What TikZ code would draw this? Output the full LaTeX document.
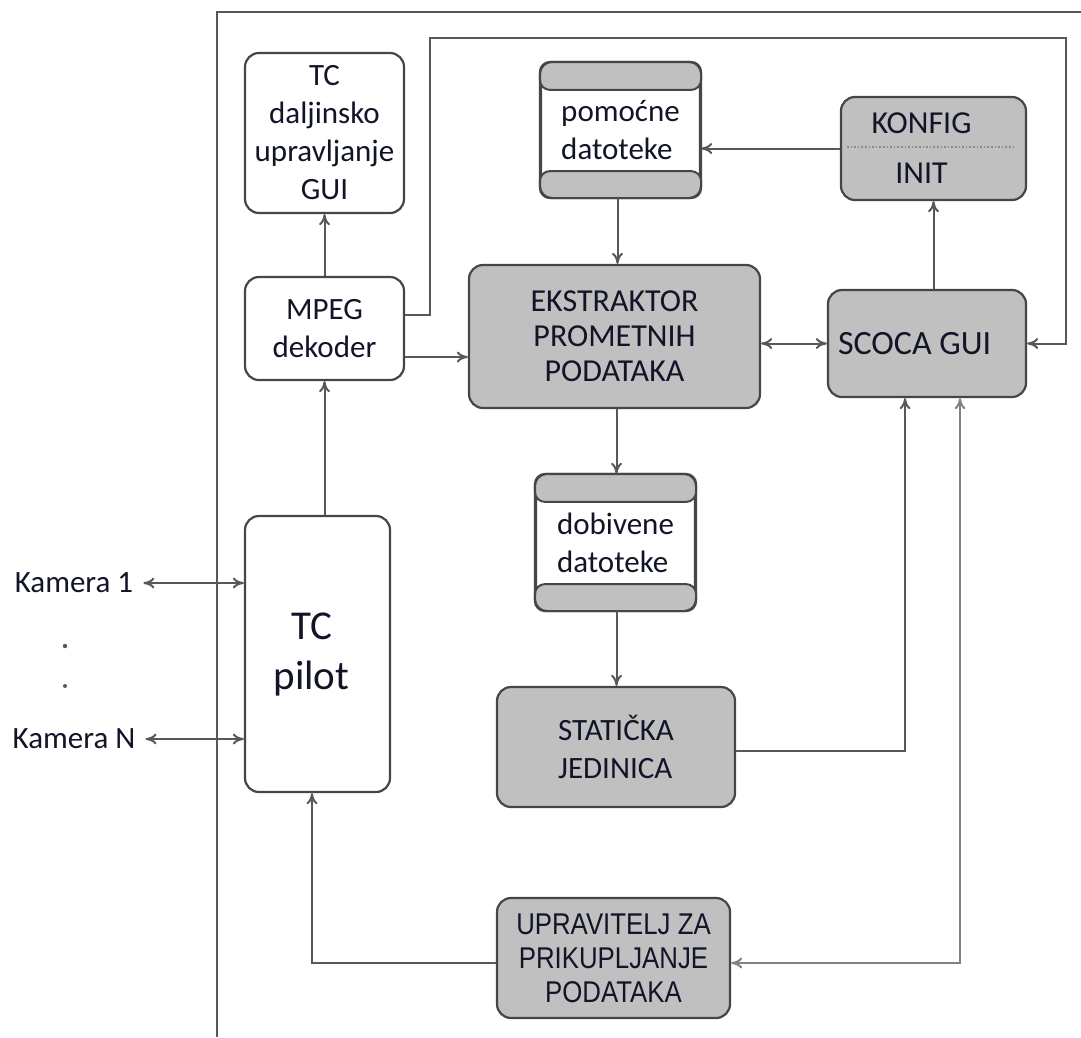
\documentclass[tikz,border=0pt]{standalone}
\usepackage{fontspec}
\setmainfont{Carlito}
\newfontfamily\narrowfont[FakeStretch=0.86]{Liberation Sans}
\usetikzlibrary{arrows.meta,positioning}

\definecolor{linija}{RGB}{88,88,88}
\definecolor{rub}{RGB}{70,70,70}
\definecolor{siva}{RGB}{192,192,192}
\definecolor{tekst}{RGB}{18,20,40}

\begin{document}
\begin{tikzpicture}[x=1pt,y=-1pt,>={To[length=11pt,width=11pt]}]
            \tikzstyle{block}=[rectangle,rounded corners=14pt,draw=rub,line width=2.2pt,inner sep=2pt,text=tekst,
                               font=\fontsize{31}{38}\selectfont,align=center]
            \tikzstyle{W}=[block,fill=white]       % bijeli blok
            \tikzstyle{G}=[block,fill=siva]        % sivi blok
            \tikzstyle{D}=[block,fill=white,align=left]  % datoteke
            \tikzstyle{band}=[draw=rub,line width=2pt,fill=siva,rounded corners=10pt]
            \tikzstyle{conn}=[draw=linija,line width=2pt]
            \tikzstyle{every edge}=[conn]
            \tikzstyle{kam}=[text=tekst,font=\fontsize{31}{38}\selectfont,inner sep=10pt]

            \useasboundingbox (0,0) rectangle (1081,1037);

            % okvir
            \draw[linija,line width=2pt] (217,1037) -- (217,12) -- (1081,12);

            \node[W,minimum width=159pt,minimum height=160pt] (tcgui) at (324.5,133) {TC\\daljinsko\\upravljanje\\GUI};
            \node[W,minimum width=159pt,minimum height=103pt] (mpeg) at (324.5,328.5) {MPEG\\dekoder};
            \node[W,minimum width=145pt,minimum height=276pt,font=\fontsize{41}{50}\selectfont] (pilot) at (317.5,654) {TC\hspace*{12pt}\\pilot\hspace*{12pt}};

            \node[D,minimum width=159pt,minimum height=134pt] (pomocne) at (620.5,130) {pomoćne\\datoteke};
            \node[D,minimum width=159pt,minimum height=135pt] (dobivene) at (615.5,542.5) {dobivene\\datoteke};

            \node[G,minimum width=291pt,minimum height=143pt,font=\fontsize{32}{35}\selectfont] (ekstraktor) at (614.5,336.5) {EKSTRAKTOR\\PROMETNIH\\PODATAKA};
            \node[G,minimum width=185pt,minimum height=103pt,font=\fontsize{32}{38}\selectfont] (konfig) at (933.5,148.5) {KONFIG\hspace*{24pt}\\[12pt]INIT\hspace*{24pt}};
            \node[G,minimum width=198pt,minimum height=107pt,font=\fontsize{34}{38}\selectfont] (scoca) at (927,343.5) {\makebox[178pt][l]{SCOCA GUI}};
            \node[G,minimum width=238pt,minimum height=120pt,align=left] (statika) at (616,747) {STATIČKA\\JEDINICA};
            \node[G,minimum width=233pt,minimum height=120pt,font=\narrowfont\fontsize{30}{34}\selectfont] (upravitelj) at (613.5,958) {UPRAVITELJ ZA\\PRIKUPLJANJE\\PODATAKA};

            \node[kam] (kam1) at (74,583) {Kamera 1};
            \node[kam] (kamN) at (74,739) {Kamera N};
            \fill[linija] (65,646) circle (2.2pt) (65,686) circle (2pt);

            % trake na datotekama
            \foreach \d in {pomocne,dobivene} {
                \draw[band] (\d.north west) rectangle ([yshift=-28pt]\d.north east);
                \draw[band] ([yshift=27pt]\d.south west) rectangle (\d.south east);
                \draw[draw=rub,line width=2.2pt,rounded corners=12pt] (\d.north west) rectangle (\d.south east);
            }
            \draw[linija!70,line width=1.6pt,dotted] ([xshift=7pt,yshift=1.5pt]konfig.west) -- ([xshift=-13pt,yshift=1.5pt]konfig.east);

            \path[->] (mpeg) edge (tcgui);
            \path[->] (mpeg.south |- pilot.north) edge (mpeg.south);
            \draw[conn,->] ([yshift=-28.5pt]mpeg.east) coordinate (m1) -- (m1 -| ekstraktor.west);
            \coordinate (petlja1) at (430,38);
            \coordinate (petlja2) at (1066,38);
            \draw[conn,->] ([yshift=13.5pt]mpeg.east) -| (petlja1) -- (petlja2) |- (scoca.east);
            \path[->] ([xshift=-3pt]pomocne.south) edge ([xshift=-3pt]pomocne.south |- ekstraktor.north);
            \draw[conn,->] (konfig.west) -- (konfig.west -| pomocne.east);
            \path[->] (scoca.north -| konfig) edge (konfig.south);
            \draw[conn,<->] (ekstraktor.east |- scoca) -- (scoca.west);
            \path[->] ([xshift=2pt]ekstraktor.south) edge ([xshift=2pt]ekstraktor.south |- dobivene.north);
            \path[->] ([xshift=1pt]dobivene.south) edge ([xshift=1pt]dobivene.south |- statika.north);
            \draw[conn,->] ([yshift=-4pt]statika.east) -| ([xshift=-22pt]scoca.south);
            \draw[conn,<->,linija!75] ([yshift=-5pt]upravitelj.east) -| ([xshift=33pt]scoca.south);
            \draw[conn,->] ([yshift=-5pt]upravitelj.west) -| ([xshift=-5.5pt]pilot.south);
            \draw[conn,<->] (kam1.east) -- (kam1.east -| pilot.west);
            \draw[conn,<->] (kamN.east) -- (kamN.east -| pilot.west);
\end{tikzpicture}
\end{document}
